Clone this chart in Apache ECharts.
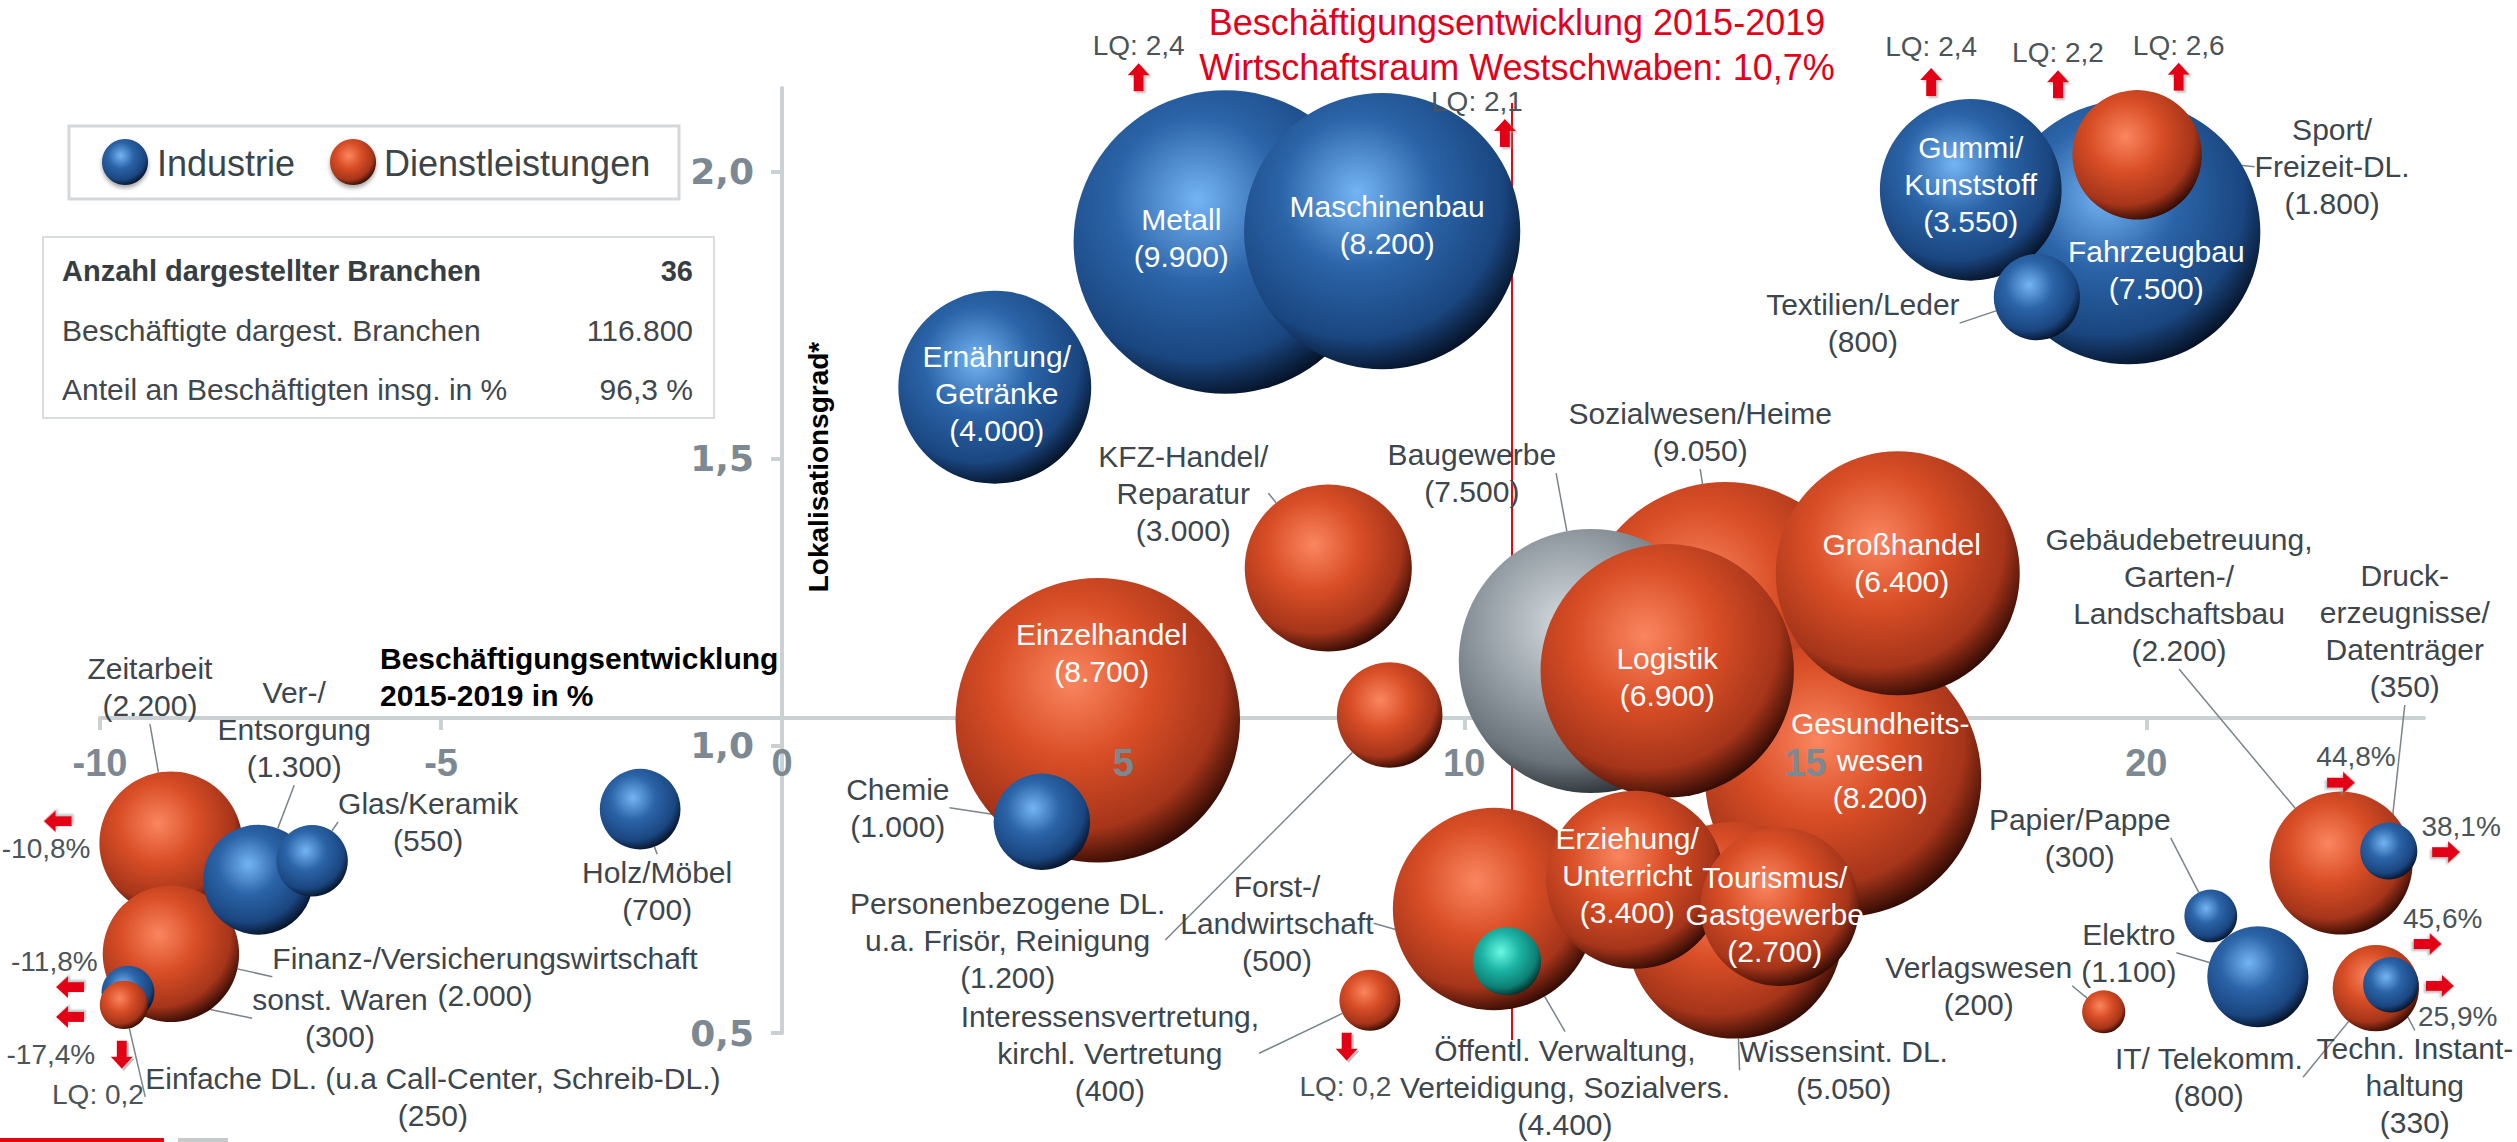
<!DOCTYPE html>
<html>
<head>
<meta charset="utf-8">
<script src="https://cdn.jsdelivr.net/npm/echarts@6/dist/echarts.min.js"></script>
<style>
html,body{margin:0;padding:0;background:#ffffff;}
#chart{width:2517px;height:1142px;}
</style>
</head>
<body>
<div id="chart"></div>
<script>
// ---------------- DATA ----------------
// Branches in drawing order (later = on top)
const branchNames = [
  'Zeitarbeit', 'Finanz-/Versicherungswirtschaft', 'Ver-/\nEntsorgung', 'Glas/Keramik',
  'sonst. Waren', 'Einfache DL. (u.a Call-Center, Schreib-DL.)', 'Holz/Möbel',
  'Einzelhandel', 'Chemie', 'Ernährung/\nGetränke', 'Metall', 'Maschinenbau',
  'KFZ-Handel/\nReparatur', 'Personenbezogene DL.\nu.a. Frisör, Reinigung',
  'Interessensvertretung,\nkirchl. Vertretung', 'Sozialwesen/Heime', 'Gesundheits-\nwesen',
  'Baugewerbe', 'Großhandel', 'Logistik', 'Wissensint. DL.',
  'Öffentl. Verwaltung,\nVerteidigung, Sozialvers.', 'Forst-/\nLandwirtschaft',
  'Erziehung/\nUnterricht', 'Tourismus/\nGastgewerbe', 'Fahrzeugbau', 'Gummi/\nKunststoff',
  'Sport/\nFreizeit-DL.', 'Textilien/Leder', 'Gebäudebetreuung,\nGarten-/\nLandschaftsbau',
  'Druck-\nerzeugnisse/\nDatenträger', 'Papier/Pappe', 'Elektro', 'Verlagswesen',
  'IT/ Telekomm.', 'Techn. Instant-\nhaltung'
];
// I = Industrie, D = Dienstleistungen, B = Baugewerbe, L = Land-/Forstwirtschaft
const branchGroup = [
  'D','D','I','I','I','D','I','D','I','I','I','I','D','D','D','D','D','B','D','D','D','D','L',
  'D','D','I','I','D','I','D','I','I','I','D','D','I'
];
// Beschäftigungsentwicklung 2015-2019 in % (position as drawn)
const growthPct = [
  -8.96, -8.96, -7.68, -6.89, -9.59, -9.65, -2.08, 4.63, 3.81, 3.12, 6.50, 8.80,
  8.01, 8.91, 8.62, 13.83, 15.56, 11.86, 16.36, 12.98, 13.97, 10.44, 10.63,
  12.51, 14.63, 19.74, 17.43, 19.87, 18.40, 22.86, 23.56, 20.95, 21.64, 19.38,
  23.37, 23.59
];
// Lokalisationsgrad (position as drawn)
const locQuot = [
  0.831, 0.638, 0.767, 0.800, 0.571, 0.549, 0.890, 1.045, 0.868, 1.625, 1.878, 1.897,
  1.310, 1.054, 0.557, 1.207, 0.943, 1.148, 1.301, 1.131, 0.679, 0.716, 0.625,
  0.767, 0.720, 1.895, 1.969, 2.030, 1.782, 0.796, 0.817, 0.704, 0.598, 0.537,
  0.578, 0.584
];
// Beschäftigte
const employees = [
  2200, 2000, 1300, 550, 300, 250, 700, 8700, 1000, 4000, 9900, 8200,
  3000, 1200, 400, 9050, 8200, 7500, 6400, 6900, 5050, 4400, 500,
  3400, 2700, 7500, 3550, 1800, 800, 2200, 350, 300, 1100, 200,
  800, 330
];
// Reference line: Beschäftigungsentwicklung Wirtschaftsraum Westschwaben
const refGrowth = 10.7;
const refLineLQ = [2.12, 0.488];

// Out-of-range markers: [x, LQ, direction]
const arrowMarks = [
  [5.23, 2.165, 'up'], [10.60, 2.068, 'up'], [16.85, 2.157, 'up'], [18.71, 2.153, 'up'],
  [20.48, 2.166, 'up'], [-9.68, 0.462, 'down'], [8.28, 0.476, 'down'],
  [-10.62, 0.869, 'left'], [-10.44, 0.580, 'left'], [-10.44, 0.528, 'left'],
  [22.86, 0.936, 'right'], [24.40, 0.815, 'right'], [24.13, 0.655, 'right'], [24.31, 0.582, 'right']
];
// True values of clipped bubbles: [text, x, LQ]
const noteTexts = [
  ['LQ: 2,4', 5.23, 2.221], ['LQ: 2,1', 10.19, 2.122], ['LQ: 2,4', 16.85, 2.218],
  ['LQ: 2,2', 18.71, 2.209], ['LQ: 2,6', 20.48, 2.221], ['LQ: 0,2', -10.03, 0.392],
  ['LQ: 0,2', 8.26, 0.406], ['-10,8%', -10.79, 0.821], ['-11,8%', -10.67, 0.624],
  ['-17,4%', -10.72, 0.463], ['44,8%', 23.08, 0.981], ['38,1%', 24.62, 0.859],
  ['45,6%', 24.35, 0.699], ['25,9%', 24.57, 0.528]
];
const xTicks = [-10, -5, 0, 5, 10, 15, 20];
const yTicks = [0.5, 1.0, 1.5, 2.0];
const legendNames = ['Industrie', 'Dienstleistungen'];
const infoLabels = ['Anzahl dargestellter Branchen', 'Beschäftigte dargest. Branchen', 'Anteil an Beschäftigten insg. in %'];
const infoValues = ['36', '116.800', '96,3 %'];
const titleLines = ['Beschäftigungsentwicklung 2015-2019', 'Wirtschaftsraum Westschwaben: 10,7%'];
const xAxisTitle = 'Beschäftigungsentwicklung\n2015-2019 in %';
const yAxisTitle = 'Lokalisationsgrad*';

// ---------------- STYLE / LAYOUT ----------------
// label placement: [inside?, dx, dy] (pixels from bubble centre)
const labelPlace = [
  [0,-21,-156],[0,314,23],[0,36,-150],[0,116,-39],[0,212,26],[0,309,92],[0,17,82],
  [1,4,-67],[0,-144,-14],[1,2,6],[1,-44,-4],[1,5,-6],
  [0,-145,-75],[0,-382,225],[0,-260,53],[0,-25,-195],[1,37,-18],
  [0,-119,-188],[1,4,-10],[1,0,6],[0,109,140],[0,71,178],[0,-230,-38],
  [1,-8,-4],[1,-5,8],[1,28,38],[1,0,-5],[0,195,12],[0,-174,26],[0,-162,-268],
  [0,16,-220],[0,-131,-78],[0,-129,-24],[0,-125,-26],[0,-167,89],[0,24,101]
];
const SIZE_K = 3.05; // diameter = k * sqrt(employees)
const FONT = '"Liberation Sans", Arial, sans-serif';
const gradStops = {
  I: ['#74b4f4', '#2b64a8', '#1a4680', '#06142a'],
  D: ['#fa8660', '#d94e26', '#a6351a', '#350c04'],
  B: ['#d6dce0', '#9da6ac', '#6a737a', '#2c3237'],
  L: ['#6af8e4', '#1cb4a4', '#0e7f74', '#03302b']
};
function sphere(g) {
  const s = gradStops[g];
  return { type: 'radial', x: 0.41, y: 0.36, r: 0.66,
    colorStops: [{offset: 0, color: s[0]}, {offset: 0.42, color: s[1]}, {offset: 0.8, color: s[2]}, {offset: 1, color: s[3]}] };
}
const fmtNum = n => String(n).replace(/\B(?=(\d{3})+(?!\d))/g, '.');

// view range of the full-canvas plotting grid
const X_VIEW = [-782 / 68.2, (2517 - 782) / 68.2];
const Y_VIEW = [1 - 396 / 574, 1 + 746 / 574];

const bubbleData = branchNames.map((n, i) => {
  const inside = labelPlace[i][0] === 1;
  return {
    name: n,
    value: [growthPct[i], locQuot[i], employees[i]],
    itemStyle: { color: sphere(branchGroup[i]), opacity: 1 },
    label: {
      show: true, position: 'inside',
      formatter: n + '\n(' + fmtNum(employees[i]) + ')',
      color: inside ? '#ffffff' : '#3d464c'
    },
    labelLine: { show: !inside }
  };
});

const arrowPath = 'path://M11,0 L22,12 L16,12 L16,28 L6,28 L6,12 L0,12 Z';
const rot = { up: 0, down: 180, left: 90, right: -90 };

const chart = echarts.init(document.getElementById('chart'), null, { renderer: 'svg' });
const axisGray = '#cbd0d3';
const labelGray = '#7d8992';

const option = {
  backgroundColor: '#ffffff',
  animation: false,
  grid: [
    { left: 0, right: 0, top: 0, bottom: 0 },
    { left: 100, right: 93, top: 100, bottom: 424 },
    { left: 782, width: 10, top: 88, bottom: 109 }
  ],
  xAxis: [
    { gridIndex: 0, type: 'value', min: X_VIEW[0], max: X_VIEW[1], show: false },
    { gridIndex: 1, type: 'value', min: -10, max: 24.07, interval: 5, position: 'bottom', z: 0,
      axisLine: { show: true, onZero: false, lineStyle: { color: axisGray, width: 4 } },
      axisTick: { show: true, length: 12, customValues: xTicks, lineStyle: { color: axisGray, width: 4 } },
      axisLabel: { show: false }, splitLine: { show: false } },
    { gridIndex: 1, type: 'value', min: -10, max: 24.07, interval: 5, position: 'bottom', z: 50,
      axisLine: { show: false }, axisTick: { show: false }, splitLine: { show: false },
      axisLabel: { show: true, customValues: xTicks, margin: 45, verticalAlign: 'middle',
        fontFamily: FONT, fontWeight: 'bold', fontSize: 38, color: labelGray,
        formatter: v => (xTicks.indexOf(Math.round(v)) >= 0 && Math.abs(v - Math.round(v)) < 1e-6) ? String(Math.round(v)) : '' } },
    { gridIndex: 2, type: 'value', min: 0, max: 1, show: false }
  ],
  yAxis: [
    { gridIndex: 0, type: 'value', min: Y_VIEW[0], max: Y_VIEW[1], show: false },
    { gridIndex: 1, type: 'value', min: 0, max: 1, show: false },
    { gridIndex: 2, type: 'value', min: 0.5, max: 2.146, interval: 0.5, position: 'left', z: 0,
      axisLine: { show: true, onZero: false, lineStyle: { color: axisGray, width: 4 } },
      axisTick: { show: true, length: 11, customValues: yTicks, lineStyle: { color: axisGray, width: 4 } },
      splitLine: { show: false },
      axisLabel: { show: true, customValues: yTicks, margin: 28,
        fontFamily: '"DejaVu Sans", sans-serif', fontWeight: 'bold', fontSize: 36, color: labelGray,
        formatter: v => (yTicks.some(t => Math.abs(t - v) < 1e-6)) ? v.toFixed(1).replace('.', ',') : '' } }
  ],
  series: [
    {
      name: 'Branchen', type: 'scatter', xAxisIndex: 0, yAxisIndex: 0, z: 5,
      data: bubbleData,
      symbol: 'circle',
      symbolSize: v => SIZE_K * Math.sqrt(v[2]),
      silent: true,
      itemStyle: { opacity: 1 },
      emphasis: { disabled: true },
      label: { fontFamily: FONT, fontSize: 30, lineHeight: 37, align: 'center', verticalAlign: 'middle' },
      labelLine: { show: true, lineStyle: { color: '#7a848a', width: 1.5 } },
      labelLayout: p => ({ dx: labelPlace[p.dataIndex][1], dy: labelPlace[p.dataIndex][2] }),
      markLine: {
        silent: true, symbol: ['none', 'none'], label: { show: false },
        lineStyle: { color: '#e30613', width: 2, type: 'solid', opacity: 1 },
        data: [[{ coord: [refGrowth, refLineLQ[0]] }, { coord: [refGrowth, refLineLQ[1]] }]]
      }
    },
    {
      name: 'Pfeile', type: 'scatter', xAxisIndex: 0, yAxisIndex: 0, z: 6, silent: true,
      symbol: arrowPath, symbolSize: [22, 28],
      itemStyle: { color: '#e30613', opacity: 1, shadowColor: 'rgba(150,150,150,0.6)', shadowBlur: 2, shadowOffsetX: 2, shadowOffsetY: 2 },
      data: arrowMarks.map(a => ({ value: [a[0], a[1]], symbolRotate: rot[a[2]] }))
    },
    {
      name: 'Hinweise', type: 'scatter', xAxisIndex: 0, yAxisIndex: 0, z: 6, silent: true,
      symbolSize: 2, itemStyle: { color: 'rgba(255,255,255,0)', opacity: 1 },
      label: { show: true, position: 'inside', formatter: p => p.name,
        fontFamily: FONT, fontSize: 28, color: '#4b5459' },
      data: noteTexts.map(t => ({ name: t[0], value: [t[1], t[2]] }))
    }
  ],
  graphic: [
    // title
    { type: 'text', x: 1517, y: 22, z: 100, style: { text: titleLines[0], fill: '#e2001a', font: '36px ' + FONT, textAlign: 'center', textVerticalAlign: 'middle' } },
    { type: 'text', x: 1517, y: 67, z: 100, style: { text: titleLines[1], fill: '#e2001a', font: '36px ' + FONT, textAlign: 'center', textVerticalAlign: 'middle' } },
    // legend
    { type: 'rect', z: 100, shape: { x: 69, y: 126, width: 610, height: 73 }, style: { fill: '#ffffff', stroke: '#d3d7da', lineWidth: 3 } },
    { type: 'circle', z: 101, shape: { cx: 125, cy: 162, r: 23 }, style: { fill: sphere('I'), shadowColor: 'rgba(0,0,0,0.35)', shadowBlur: 4, shadowOffsetY: 3 } },
    { type: 'text', z: 101, x: 157, y: 163, style: { text: legendNames[0], fill: '#3b4449', font: '36px ' + FONT, textVerticalAlign: 'middle' } },
    { type: 'circle', z: 101, shape: { cx: 353, cy: 162, r: 23 }, style: { fill: sphere('D'), shadowColor: 'rgba(0,0,0,0.35)', shadowBlur: 4, shadowOffsetY: 3 } },
    { type: 'text', z: 101, x: 384, y: 163, style: { text: legendNames[1], fill: '#3b4449', font: '36px ' + FONT, textVerticalAlign: 'middle' } },
    // info box
    { type: 'rect', z: 100, shape: { x: 43, y: 237, width: 671, height: 181 }, style: { fill: '#ffffff', stroke: '#d9dde0', lineWidth: 2 } },
    { type: 'text', z: 101, x: 62, y: 271, style: { text: infoLabels[0], fill: '#363e43', font: 'bold 29px ' + FONT, textVerticalAlign: 'middle' } },
    { type: 'text', z: 101, x: 693, y: 271, style: { text: infoValues[0], fill: '#363e43', font: 'bold 29px ' + FONT, textAlign: 'right', textVerticalAlign: 'middle' } },
    { type: 'text', z: 101, x: 62, y: 330, style: { text: infoLabels[1], fill: '#3f474c', font: '30px ' + FONT, textVerticalAlign: 'middle' } },
    { type: 'text', z: 101, x: 693, y: 330, style: { text: infoValues[1], fill: '#3f474c', font: '30px ' + FONT, textAlign: 'right', textVerticalAlign: 'middle' } },
    { type: 'text', z: 101, x: 62, y: 389, style: { text: infoLabels[2], fill: '#3f474c', font: '30px ' + FONT, textVerticalAlign: 'middle' } },
    { type: 'text', z: 101, x: 693, y: 389, style: { text: infoValues[2], fill: '#3f474c', font: '30px ' + FONT, textAlign: 'right', textVerticalAlign: 'middle' } },
    // axis titles
    { type: 'text', z: 100, x: 380, y: 677, style: { text: xAxisTitle, fill: '#000000', font: 'bold 30px ' + FONT, lineHeight: 37, textVerticalAlign: 'middle' } },
    { type: 'text', z: 100, x: 818, y: 467, rotation: Math.PI / 2, style: { text: yAxisTitle, fill: '#000000', font: 'bold 28px ' + FONT, textAlign: 'center', textVerticalAlign: 'middle' } },
    // bottom decoration
    { type: 'rect', z: 100, shape: { x: 0, y: 1138, width: 164, height: 4 }, style: { fill: '#e30613' } },
    { type: 'rect', z: 100, shape: { x: 178, y: 1138, width: 50, height: 4 }, style: { fill: '#c6cacd' } }
  ]
};
chart.setOption(option);
</script>
</body>
</html>
